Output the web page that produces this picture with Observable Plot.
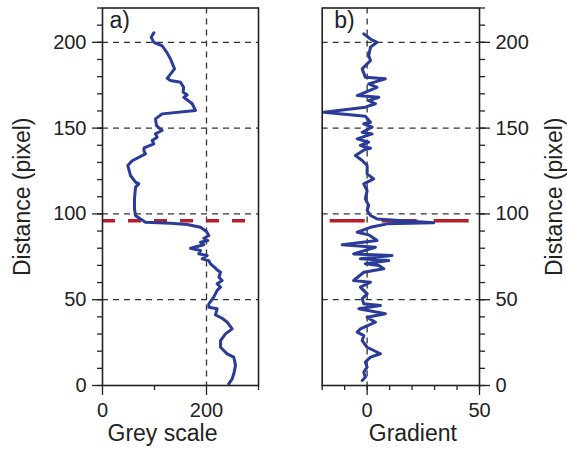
<!DOCTYPE html>
<html>
<head>
<meta charset="utf-8">
<script src="https://cdn.jsdelivr.net/npm/d3@7"></script>
<script src="https://cdn.jsdelivr.net/npm/@observablehq/plot@0.6"></script>
<style>
  html, body { margin: 0; padding: 0; background: #fff; }
  #wrap { display: flex; width: 567px; height: 451px; }
  #wrap svg { display: block; }
</style>
</head>
<body>
<div id="wrap"></div>
<script>
// ---- Panel a) : grey scale profile (distance in pixel, grey value) ----
const distA = [205.5, 203, 200, 198, 194, 190.3, 184.5, 179, 177.7, 176.7, 173.8, 171, 169.3, 168, 164.2, 160.3,
  158.3, 155.4, 151.5, 148.6, 146.7, 144.7, 142.8, 140.8, 138.5, 136.9, 135, 131, 128.2, 122.4, 118.5, 117.5,
  115.6, 108.8, 103, 99, 97.1, 95.2, 94.6, 93.8, 92.2, 89.7, 87.4, 85.8, 84.5, 83.5, 82, 80, 78.7, 76.7, 75.8,
  73.8, 72.8, 70.9, 69, 67.5, 66, 63.1, 61.2, 59.3, 57.3, 55.4, 51.5, 47.6, 45.6, 44.7, 41.2, 39.2, 36.9, 33,
  30.1, 26.2, 22.3, 18.4, 16.5, 11.7, 6.8, 3.9, 1];
const greyA = [98.7, 93.6, 98.7, 114.7, 124, 130.8, 138.5, 124.4, 130.8, 150, 156, 155, 162.8, 156.4, 172.5, 178.8,
  114.7, 101.9, 103.8, 114.7, 101.9, 105, 95.5, 98.7, 80, 79.5, 82.7, 57, 48.7, 53.8, 63.5, 69.8,
  63.5, 61.5, 61.5, 63.5, 73, 82.7, 130.8, 162.8, 188.5, 200, 204.5, 194.8, 202.5, 188.5, 194.8, 169.2, 188.5, 185.2, 201.3,
  191.7, 204.5, 207.7, 215, 220, 227, 224, 230, 220.5, 227, 220.5, 214, 204.5, 204.5, 220.5, 217.3, 230, 239.7, 249.4,
  236.5, 227, 227, 239.7, 252.5, 255.8, 252.5, 249.4, 242.8];

// ---- Panel b) : gradient profile ----
const distB = [204.9, 201.9, 200, 197.2, 192.3, 189.4, 184.5, 179.7, 178.7, 175.8, 173.8, 169, 168, 166, 164.2, 162.2,
  159.3, 156.9, 153.4, 152.5, 150.5, 147.6, 146.6, 143.7, 141.8, 139.9, 138.3, 137.5, 134, 131.1, 128.2, 123.3,
  120.4, 117.5, 113.6, 108.8, 104.9, 102, 99.1, 97.1, 94.8, 94.2, 92.2, 89.3, 87.8, 84.5, 82, 80.6, 76.7, 75.8,
  73.8, 72.8, 70.9, 69.9, 68, 66, 61.2, 60.2, 57.3, 53.4, 50.5, 47.6, 46.6, 44.7, 41.8, 39.8, 36.9, 33, 31.1,
  29.1, 26.2, 22.3, 18.5, 16.5, 13.6, 10.7, 7.8, 4.8, 2.9];
const gradB = [-1.5, 1.5, 4.4, 1.5, 0.7, 1.5, -2.2, -0.8, 8.1, 0.7, 4.4, -4.4, 5.2, 0.7, 3.7, -0.8,
  -19.3, -0.8, 1.5, -1.5, 2.2, -2.2, 2.2, -4.4, 0.7, -3, 1.5, -1, -5.2, -2.2, 0, 0,
  2.9, -1.5, 0, -0.8, 0.7, 0, 1.5, 4.4, 29.6, 8.9, 1.5, -4.4, 0.7, 4.4, -11.1, 3.7, -6, 11.1,
  -3, 9.6, -0.8, 5.2, 7.4, -1.5, -6, 1.5, -3, 0, -2.2, -1.5, 5.9, -3.7, 8.1, 0, 3.7, -3, -4.4,
  -1.5, -2.2, 0, 5.9, 1.5, -0.8, 0, -1.5, -0.8, -2.2];

// ---- reference lines and ticks ----
const gridY = [50, 100, 150, 200];
const edgeY = [96];
const majorY = [0, 50, 100, 150, 200];
const minorY = d3.range(0, 221, 10);
const majorXA = [0, 200];
const minorXA = [100, 300];
const majorXB = [0, 50];
const minorXB = d3.range(-20, 51, 10);
const vlineA = [200];
const vlineB = [0];

const dataA = distA.map((d, i) => ({d, v: greyA[i]}));
const dataB = distB.map((d, i) => ({d, v: gradB[i]}));

const blue = "#2a3c98";
const red = "#b5202a";
const ink = "#222";
const font = "'Liberation Sans', Arial, Helvetica, sans-serif";
const tickFont = 20;
const titleFont = 23;

function gridMarks(vline) {
  return [
    Plot.ruleY(gridY, {stroke: "#333", strokeWidth: 1.3, strokeDasharray: "6,5"}),
    Plot.ruleX(vline, {stroke: "#333", strokeWidth: 1.3, strokeDasharray: "6,5"})
  ];
}

const plotA = Plot.plot({
  width: 290, height: 451,
  marginLeft: 102, marginRight: 32, marginTop: 7.5, marginBottom: 66,
  x: {domain: [0, 300]},
  y: {domain: [0, 220]},
  style: {fontFamily: font, fontSize: tickFont + "px", color: ink, background: "white", overflow: "visible"},
  marks: [
    ...gridMarks(vlineA),
    Plot.ruleY(edgeY, {stroke: red, strokeWidth: 3.5, strokeDasharray: "13,13"}),
    Plot.line(dataA, {x: "v", y: "d", stroke: blue, strokeWidth: 3, strokeLinejoin: "round"}),
    Plot.frame({stroke: ink, strokeWidth: 1.6}),
    Plot.axisY(minorY, {anchor: "left", tickSize: 5, tickFormat: () => "", label: null, strokeWidth: 1.3}),
    Plot.axisY(majorY, {anchor: "left", tickSize: 10, tickPadding: 6, label: null, strokeWidth: 1.3, fontSize: tickFont}),
    Plot.axisX(minorXA, {anchor: "bottom", tickSize: 5, tickFormat: () => "", label: null, strokeWidth: 1.3}),
    Plot.axisX(majorXA, {anchor: "bottom", tickSize: 10, tickPadding: 7, label: null, strokeWidth: 1.3, fontSize: tickFont}),
    Plot.text(["Distance (pixel)"], {frameAnchor: "left", dx: -80, rotate: -90, textAnchor: "middle", fontSize: titleFont, fill: ink}),
    Plot.text(["Grey scale"], {frameAnchor: "bottom", dx: -18, dy: 55, textAnchor: "middle", fontSize: titleFont, fill: ink}),
    Plot.text(["a)"], {frameAnchor: "top-left", dx: 7, dy: 4, lineAnchor: "top", textAnchor: "start", fontSize: titleFont, fill: ink})
  ]
});

const plotB = Plot.plot({
  width: 277, height: 451,
  marginLeft: 31.7, marginRight: 88, marginTop: 7.5, marginBottom: 66,
  x: {domain: [-20, 50]},
  y: {domain: [0, 220]},
  style: {fontFamily: font, fontSize: tickFont + "px", color: ink, background: "white", overflow: "visible"},
  marks: [
    ...gridMarks(vlineB),
    Plot.ruleY(edgeY, {stroke: red, strokeWidth: 3.5, strokeDasharray: "35,17", strokeDashoffset: 44}),
    Plot.line(dataB, {x: "v", y: "d", stroke: blue, strokeWidth: 3, strokeLinejoin: "round"}),
    Plot.frame({stroke: ink, strokeWidth: 1.6}),
    Plot.axisY(minorY, {anchor: "right", tickSize: 5, tickFormat: () => "", label: null, strokeWidth: 1.3}),
    Plot.axisY(majorY, {anchor: "right", tickSize: 10, tickPadding: 6, label: null, strokeWidth: 1.3, fontSize: tickFont}),
    Plot.axisX(minorXB, {anchor: "bottom", tickSize: 5, tickFormat: () => "", label: null, strokeWidth: 1.3}),
    Plot.axisX(majorXB, {anchor: "bottom", tickSize: 10, tickPadding: 7, label: null, strokeWidth: 1.3, fontSize: tickFont}),
    Plot.text(["Distance (pixel)"], {frameAnchor: "right", dx: 75, rotate: -90, textAnchor: "middle", fontSize: titleFont, fill: ink}),
    Plot.text(["Gradient"], {frameAnchor: "bottom", dx: 12, dy: 55, textAnchor: "middle", fontSize: titleFont, fill: ink}),
    Plot.text(["b)"], {frameAnchor: "top-left", dx: 12, dy: 4, lineAnchor: "top", textAnchor: "start", fontSize: titleFont, fill: ink})
  ]
});

document.getElementById("wrap").append(plotA, plotB);
</script>
</body>
</html>
